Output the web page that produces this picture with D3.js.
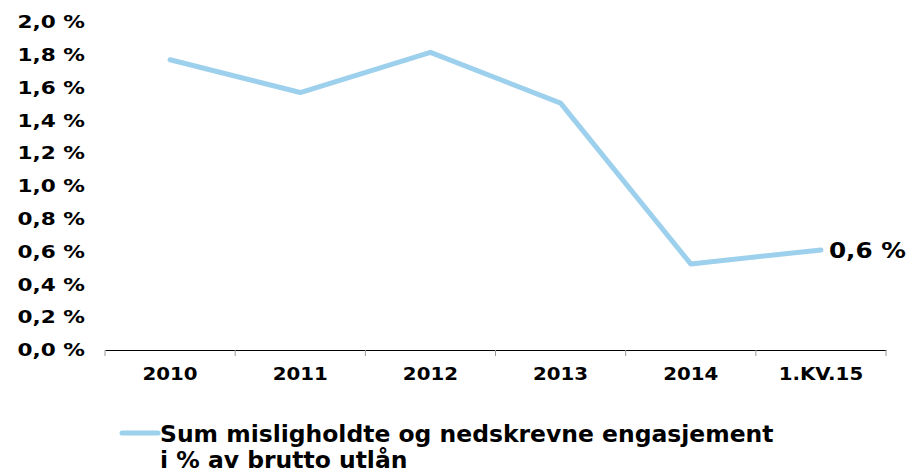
<!DOCTYPE html>
<html>
<head>
<meta charset="utf-8">
<script src="https://cdn.jsdelivr.net/npm/d3@7"></script>
<style>
  body { margin: 0; background: #fff; }
</style>
</head>
<body>
<script>
// data
const categories = ['2010', '2011', '2012', '2013', '2014', '1.KV.15'];
const values = [1.77, 1.57, 1.815, 1.505, 0.525, 0.61];
const yTicks = [0, 0.2, 0.4, 0.6, 0.8, 1.0, 1.2, 1.4, 1.6, 1.8, 2.0];
const seriesName = ['Sum misligholdte og nedskrevne engasjement', 'i % av brutto utlån'];
const lastLabel = '0,6 %';

const width = 910, height = 472;
const margin = { top: 22, right: 24, bottom: 122, left: 105 };
const innerW = width - margin.left - margin.right,
      innerH = height - margin.top - margin.bottom;
const lineColor = '#9dd0ec';
const font = '"DejaVu Sans", Verdana, sans-serif';

// widen text a bit, the original uses a broad Verdana-like face
function stretch(sel, k) {
    sel.each(function () {
        const w = this.getComputedTextLength();
        d3.select(this)
            .attr('textLength', w * k)
            .attr('lengthAdjust', 'spacingAndGlyphs');
    });
}

function styleText(sel, size) {
    sel.style('font-family', font)
        .style('font-weight', 'bold')
        .style('font-size', size)
        .attr('fill', '#000');
}

const svg = d3.select('body')
    .append('svg')
        .attr('width', width)
        .attr('height', height);

const g = svg.append('g')
    .attr('transform', 'translate(' + margin.left + ', ' + margin.top + ')');

// scales
const x = d3.scaleBand()
    .domain(categories)
    .range([0, innerW]);

const y = d3.scaleLinear()
    .domain([0, 2.0])
    .range([innerH, 0]);

const fmt = v => d3.format('.1f')(v).replace('.', ',') + ' %';

// y axis (labels only)
const yAxis = g.append('g')
    .call(d3.axisLeft(y).tickValues(yTicks).tickFormat(fmt).tickSize(0).tickPadding(20));
yAxis.select('.domain').remove();
yAxis.selectAll('text')
    .call(styleText, '18px')
    .call(stretch, 1.2);

// x axis with ticks at band edges
const xAxis = g.append('g')
    .attr('transform', 'translate(0, ' + innerH + ')')
    .call(d3.axisBottom(x).tickSize(0).tickPadding(17));
xAxis.select('.domain').attr('stroke', '#000').attr('stroke-width', 1.2);
xAxis.selectAll('text')
    .call(styleText, '18px')
    .call(stretch, 1.1);

const edges = categories.map(c => x(c)).concat([innerW]);
xAxis.selectAll('line.edge')
    .data(edges)
    .enter()
    .append('line')
        .attr('class', 'edge')
        .attr('x1', d => d).attr('x2', d => d)
        .attr('y1', 0).attr('y2', 6)
        .attr('stroke', '#999')
        .attr('stroke-width', 1);

// line
const line = d3.line()
    .x((d, i) => x(categories[i]) + x.bandwidth() / 2)
    .y(d => y(d));

g.append('path')
    .datum(values)
    .attr('fill', 'none')
    .attr('stroke', lineColor)
    .attr('stroke-width', 5)
    .attr('stroke-linecap', 'round')
    .attr('stroke-linejoin', 'round')
    .attr('d', line);

// last value label
const lastI = values.length - 1;
g.append('text')
    .attr('x', x(categories[lastI]) + x.bandwidth() / 2 + 8)
    .attr('y', y(values[lastI]) + 8)
    .text(lastLabel)
    .call(styleText, '22px')
    .call(stretch, 1.12);

// legend
const legend = svg.append('g')
    .attr('transform', 'translate(122, 433)');
legend.append('line')
    .attr('x1', 0).attr('x2', 36)
    .attr('y1', 0).attr('y2', 0)
    .attr('stroke', lineColor)
    .attr('stroke-width', 5)
    .attr('stroke-linecap', 'round');
legend.selectAll('text')
    .data(seriesName)
    .enter()
    .append('text')
        .attr('x', 38)
        .attr('y', (d, i) => 9 + i * 26)
        .text(d => d)
        .call(styleText, '23px')
        .call(stretch, 1.02);
</script>
</body>
</html>
